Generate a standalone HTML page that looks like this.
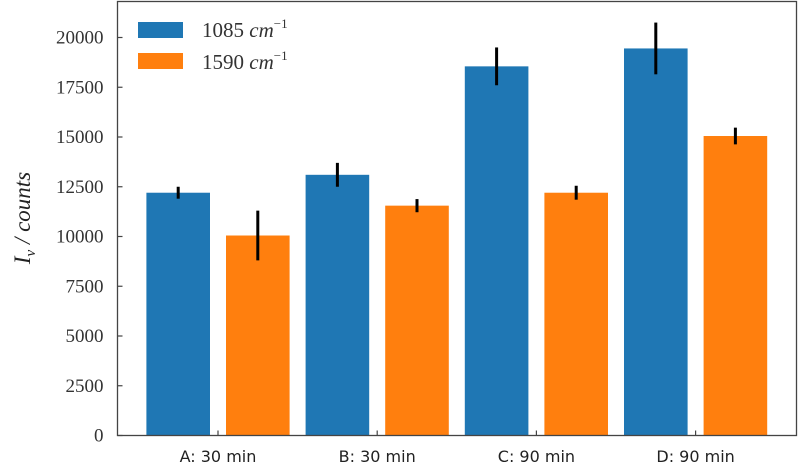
<!DOCTYPE html>
<html><head><meta charset="utf-8"><style>
body{margin:0;background:#fff}
.yt{font-family:"Liberation Serif",serif;font-size:19px;fill:#333}
.xt{font-family:"DejaVu Sans",sans-serif;font-size:16px;fill:#222}
</style></head><body>
<svg id="chart" width="800" height="469"></svg>
<script>
const categories=["A: 30 min","B: 30 min","C: 90 min","D: 90 min"];
const series1085=[12200,13100,18550,19450];
const err1085=[300,600,950,1300];
const series1590=[10050,11550,12200,15050];
const err1590=[1250,330,350,420];
const yTicks=[0,2500,5000,7500,10000,12500,15000,17500,20000];
const seriesNames=["1085","1590"];
const colors=["#1f77b4","#ff7f0e"];
const NS="http://www.w3.org/2000/svg";
const svg=document.getElementById('chart');
const L=117.5,R=796.5,T=1.5,B=435.5;
const y=v=>B-v*(49.75/2500);
const xc=i=>218+i*159.2;
const bw=63.6, off=39.8;
function mk(t,a,p){const e=document.createElementNS(NS,t);for(const k in a)e.setAttribute(k,a[k]);(p||svg).appendChild(e);return e;}
[[series1085,err1085,-off],[series1590,err1590,off]].forEach((s,si)=>{
 s[0].forEach((v,i)=>{
  const r=mk('rect',{x:xc(i)+s[2]-bw/2,y:y(v),width:bw,height:B-y(v),fill:colors[si]});
  
  
 });
 s[0].forEach((v,i)=>{
  const l=mk('line',{x1:xc(i)+s[2],x2:xc(i)+s[2],y1:y(v-s[1][i]),y2:y(v+s[1][i]),stroke:'#000','stroke-width':3});
  
  
 });
});
const fr=mk('rect',{x:L,y:T,width:R-L,height:B-T,fill:'none',stroke:'#444','stroke-width':1.3});


yTicks.forEach(v=>{
 mk('line',{x1:L,x2:L+5,y1:y(v),y2:y(v),stroke:'#444','stroke-width':1.2});
 const t=mk('text',{x:L-14,y:y(v)+6,'text-anchor':'end','class':'yt'});
 t.textContent=String(v);
 
 
});
categories.forEach((c,i)=>{
 mk('line',{x1:xc(i),x2:xc(i),y1:B,y2:B-5,stroke:'#444','stroke-width':1.2});
 const t=mk('text',{x:xc(i),y:462,'text-anchor':'middle','class':'xt'});
 t.textContent=c;
 
 
});
</script>
<svg width="800" height="469" style="position:absolute;left:0;top:0">
<text transform="translate(30,218) rotate(-90)" text-anchor="middle" font-size="23" font-style="italic" fill="#222" style="font-family:'Liberation Serif',serif">I<tspan font-size="15" dy="5">ν</tspan><tspan dy="-5"> / counts</tspan></text>
<g>
<rect x="138" y="22" width="45" height="16" fill="#1f77b4"/>
<text x="202" y="37" font-size="21" fill="#333" style="font-family:'Liberation Serif',serif">1085 <tspan font-style="italic">cm</tspan><tspan font-size="13" dy="-9">−1</tspan></text>
<rect x="138" y="53" width="45" height="16" fill="#ff7f0e"/>
<text x="202" y="69" font-size="21" fill="#333" style="font-family:'Liberation Serif',serif">1590 <tspan font-style="italic">cm</tspan><tspan font-size="13" dy="-9">−1</tspan></text>
</g>
</svg>
</body></html>
